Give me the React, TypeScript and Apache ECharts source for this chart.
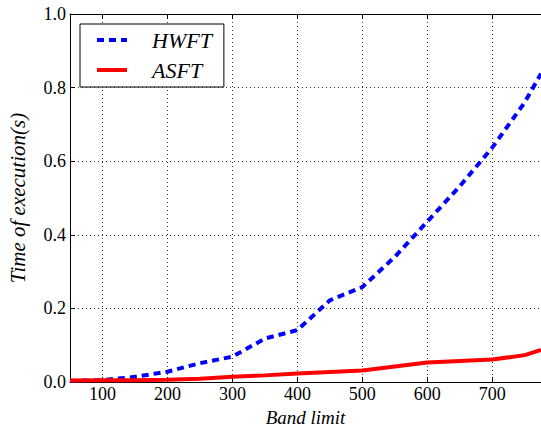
import React, { useEffect, useRef } from "react";
import * as echarts from "echarts";

const bandLimits = [50, 100, 150, 200, 250, 300, 350, 400, 450, 500, 550, 600, 650, 700, 750, 775];
const hwft = [0.003, 0.005, 0.014, 0.028, 0.051, 0.069, 0.118, 0.141, 0.222, 0.258, 0.34, 0.436, 0.532, 0.637, 0.76, 0.838];
const asft = [0.004, 0.005, 0.005, 0.006, 0.009, 0.014, 0.018, 0.023, 0.027, 0.031, 0.042, 0.053, 0.057, 0.061, 0.073, 0.087];
const xTicks = [100, 200, 300, 400, 500, 600, 700];
const seriesNames = ["HWFT", "ASFT"];

const serif = "Liberation Serif";

export default function App() {
  const ref = useRef<HTMLDivElement>(null);
  useEffect(() => {
    if (!ref.current) return;
    const chart = echarts.init(ref.current, undefined, { renderer: "svg" });
    const gridLine = { show: true, lineStyle: { color: "#000", width: 1, type: [1, 3] as any, opacity: 0.8 } };
    chart.setOption({
      animation: false,
      backgroundColor: "#fff",
      textStyle: { fontFamily: serif },
      grid: { left: 70, top: 14, right: 0, bottom: 43, containLabel: false, outerBoundsMode: "none" },
      legend: {
        data: seriesNames,
        orient: "vertical",
        left: 80,
        top: 24,
        padding: [4, 12, 5, 15],
        itemGap: 6,
        itemWidth: 30,
        itemHeight: 18,
        borderColor: "#000",
        borderWidth: 1,
        borderRadius: 0,
        backgroundColor: "#fff",
        itemStyle: { color: "transparent", borderWidth: 0, opacity: 0 },
        lineStyle: { width: 4 },
        textStyle: { fontFamily: serif, fontStyle: "italic", fontSize: 22, lineHeight: 24, color: "#000", padding: [0, 0, 0, 20] },
      },
      xAxis: [
        {
          type: "value",
          min: 50,
          max: 775,
          name: "Band limit",
          nameLocation: "middle",
          nameGap: 20,
          nameTextStyle: { fontFamily: serif, fontStyle: "italic", fontSize: 19, lineHeight: 19, color: "#000" },
          axisLine: { show: true, onZero: false, lineStyle: { color: "#000", width: 1 } },
          axisTick: { show: true, inside: true, length: 5, customValues: xTicks, lineStyle: { color: "#000" } },
          axisLabel: { customValues: xTicks, fontFamily: serif, fontSize: 18, color: "#000", margin: 3 },
          splitLine: gridLine,
        },
        {
          type: "value",
          position: "top",
          min: 50,
          max: 775,
          axisLine: { show: true, onZero: false, lineStyle: { color: "#000", width: 1 } },
          axisTick: { show: true, inside: true, length: 5, customValues: xTicks, lineStyle: { color: "#000" } },
          axisLabel: { show: false },
          splitLine: { show: false },
        },
      ],
      yAxis: {
        type: "value",
        min: 0,
        max: 1,
        interval: 0.2,
        name: "Time of execution(s)",
        nameLocation: "middle",
        nameGap: 42,
        nameTextStyle: { fontFamily: serif, fontStyle: "italic", fontSize: 21, color: "#000" },
        axisLine: { show: true, onZero: false, lineStyle: { color: "#000", width: 1 } },
        axisTick: { show: true, inside: true, length: 5, lineStyle: { color: "#000" } },
        axisLabel: {
          fontFamily: serif,
          fontSize: 18,
          color: "#000",
          margin: 4,
          formatter: (v: number) => v.toFixed(1),
        },
        splitLine: gridLine,
      },
      series: [
        {
          name: seriesNames[0],
          type: "line",
          xAxisIndex: 0,
          data: bandLimits.map((x, i) => [x, hwft[i]]),
          symbol: "none",
          itemStyle: { color: "#0000ff" },
          lineStyle: { color: "#0000ff", width: 4, type: [7, 5] as any },
        },
        {
          name: seriesNames[1],
          type: "line",
          xAxisIndex: 0,
          data: bandLimits.map((x, i) => [x, asft[i]]),
          symbol: "none",
          itemStyle: { color: "#ff0000" },
          lineStyle: { color: "#ff0000", width: 4 },
        },
      ],
    });
    return () => chart.dispose();
  }, []);
  return <div ref={ref} style={{ position: "fixed", left: 0, top: 0, width: 541, height: 425 }} />;
}
